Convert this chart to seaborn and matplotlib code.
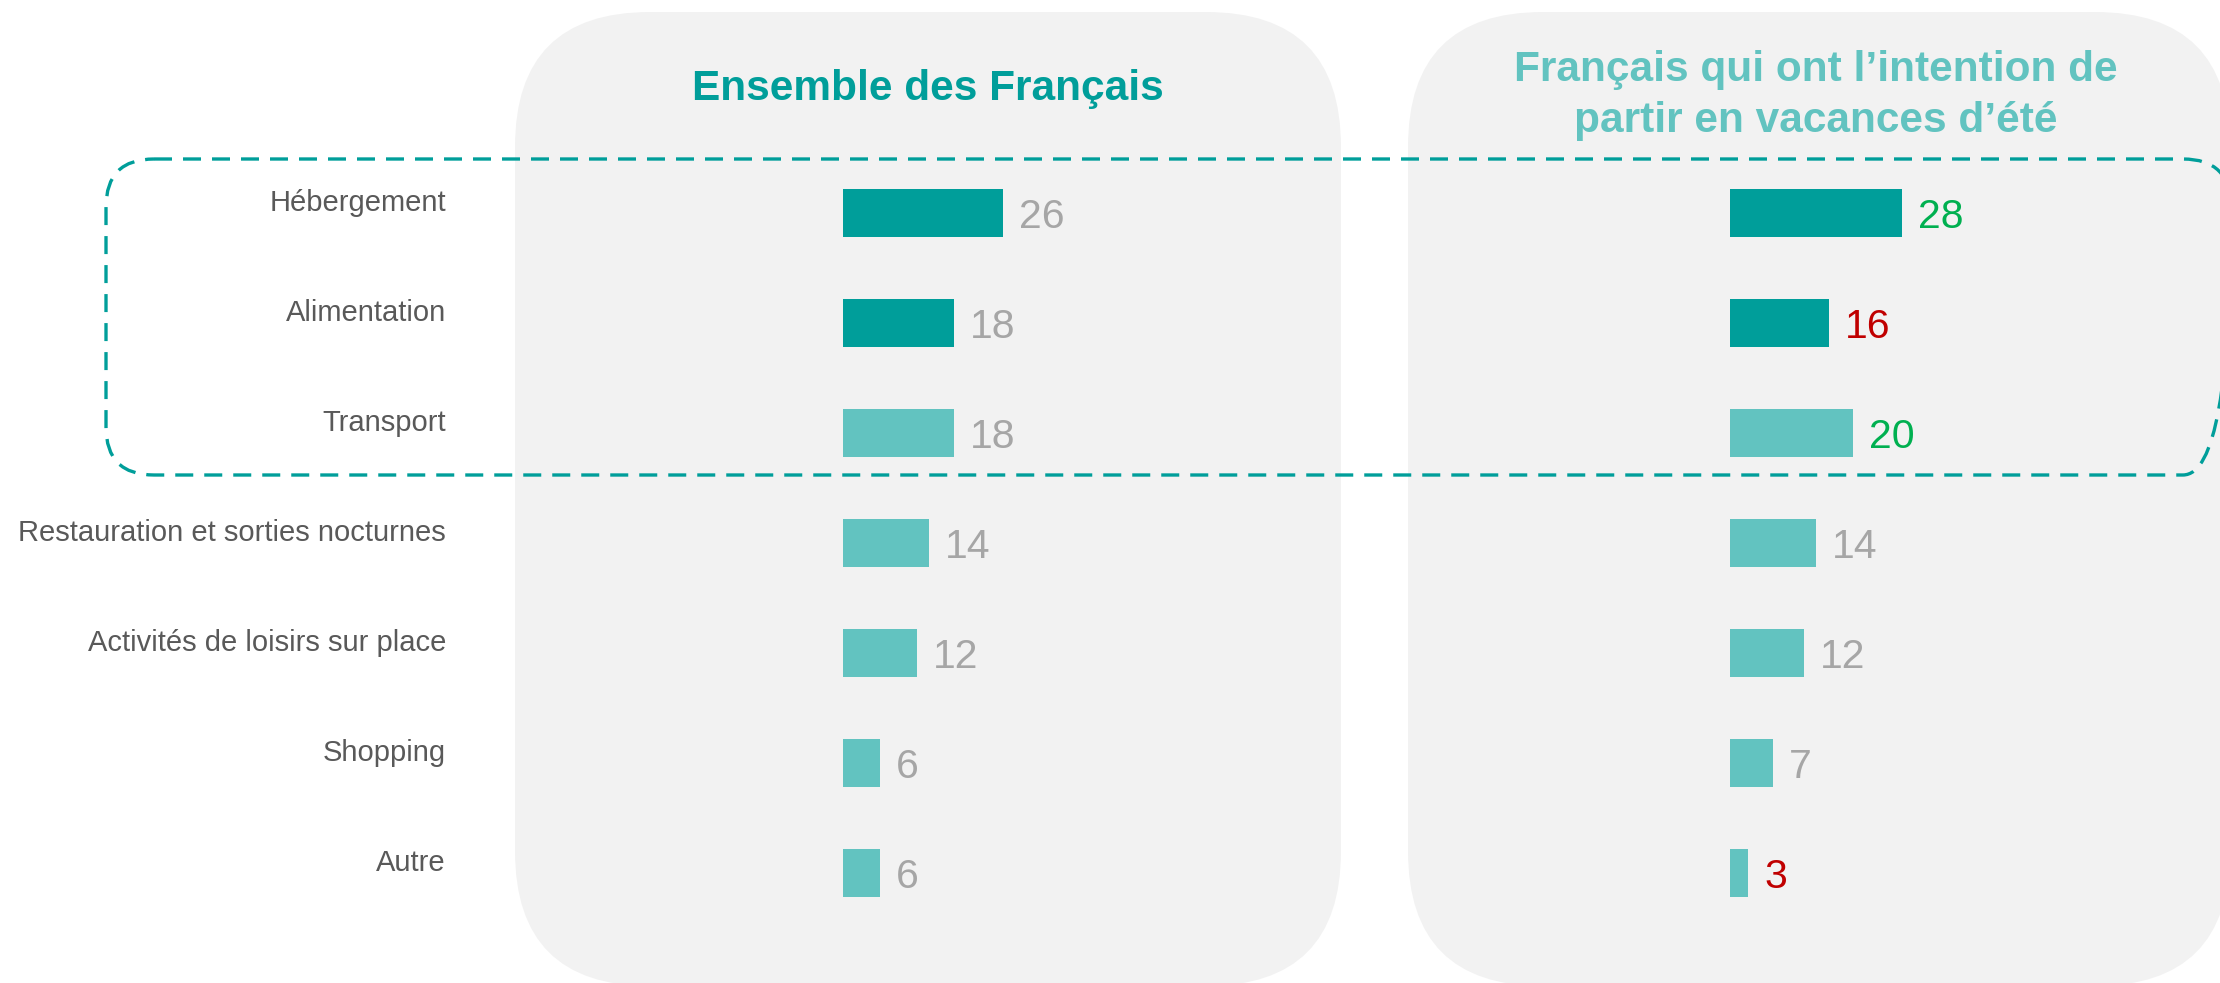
import matplotlib
matplotlib.use('Agg')
import matplotlib.pyplot as plt
from matplotlib.patches import FancyBboxPatch
from matplotlib.transforms import Affine2D
import seaborn as sns
import pandas as pd

# donnees
categories = ['Hébergement', 'Alimentation', 'Transport',
              'Restauration et sorties nocturnes', 'Activités de loisirs sur place',
              'Shopping', 'Autre']
ensemble = [26, 18, 18, 14, 12, 6, 6]
vacanciers = [28, 16, 20, 14, 12, 7, 3]
# evolution vs ensemble : couleur du chiffre a droite
tendance = ['hausse', 'baisse', 'hausse', 'egal', 'egal', 'egal', 'baisse']
titre_gauche = 'Ensemble des Français'
titre_droite = ['Français qui ont l’intention de', 'partir en vacances d’été']

DARK = '#009E9A'
LIGHT = '#62C3C0'
bar_colors = [DARK, DARK, LIGHT, LIGHT, LIGHT, LIGHT, LIGHT]
couleurs_tendance = {'hausse': '#00B050', 'baisse': '#C00000', 'egal': '#A6A6A6'}
GRIS_PANNEAU = '#F2F2F2'

sns.set_style('white')
plt.rcParams['font.family'] = ['Liberation Sans', 'DejaVu Sans']

W, H = 2220, 983
fig = plt.figure(figsize=(W / 100, H / 100), dpi=100)
fig.patch.set_facecolor('white')
px = Affine2D().scale(1, -1).translate(0, H)  # pixels, origine en haut a gauche

# panneaux gris arrondis
for x0, x1 in [(515, 1341), (1408, 2230)]:
    fig.add_artist(FancyBboxPatch((x0, 12), x1 - x0, 974,
                                  boxstyle='round,pad=0,rounding_size=135',
                                  transform=px, facecolor=GRIS_PANNEAU,
                                  edgecolor='none', zorder=-5))

# cadre pointille autour des 3 premiers postes
fig.add_artist(FancyBboxPatch((106, 159), 2231 - 106, 475 - 159,
                              boxstyle='round,pad=0,rounding_size=48',
                              transform=px, fill=False, edgecolor=DARK,
                              linewidth=2.4, linestyle=(0, (5.4, 3.3)), zorder=5))

df = pd.DataFrame({'categorie': categories, 'ensemble': ensemble, 'vacanciers': vacanciers})

PX_PER_UNIT = 6.16
XMAX = 50
y_top = (0 - 213) / 110
y_bot = (H - 213) / 110


def panneau(x_zero, col, couleurs_val):
    ax = fig.add_axes([x_zero / W, 0, PX_PER_UNIT * XMAX / W, 1])
    ax.set_facecolor('none')
    sns.barplot(data=df, x=col, y='categorie', hue='categorie', palette=bar_colors,
                legend=False, width=0.44, saturation=1, orient='h', linewidth=0, ax=ax)
    ax.set_xlim(0, XMAX)
    ax.set_ylim(y_bot, y_top)
    ax.set_xticks([])
    ax.set_yticks([])
    ax.set_xlabel('')
    ax.set_ylabel('')
    sns.despine(ax=ax, left=True, bottom=True)
    for i, v in enumerate(df[col]):
        ax.annotate(str(v), xy=(v, i), xytext=(11.5, -10.5), textcoords='offset points',
                    ha='left', va='baseline', fontsize=29.5, color=couleurs_val[i],
                    annotation_clip=False)
    return ax


ax1 = panneau(843, 'ensemble', ['#A6A6A6'] * len(categories))
ax2 = panneau(1730, 'vacanciers', [couleurs_tendance[t] for t in tendance])

# libelles des postes
for i, cat in enumerate(categories):
    ax1.annotate(cat, xy=(0, i), xytext=(-397 * 0.72, 1.4), textcoords='offset points',
                 ha='right', va='baseline', fontsize=21, color='#595959',
                 annotation_clip=False)

# titres
fig.text(928, 100, titre_gauche, transform=px, ha='center', va='baseline',
         fontsize=30.5, fontweight='bold', color=DARK)
fig.text(1816, 81, titre_droite[0], transform=px, ha='center', va='baseline',
         fontsize=30.5, fontweight='bold', color=LIGHT)
fig.text(1816, 132, titre_droite[1], transform=px, ha='center', va='baseline',
         fontsize=30.5, fontweight='bold', color=LIGHT)

fig.savefig('out.png', dpi=100)
